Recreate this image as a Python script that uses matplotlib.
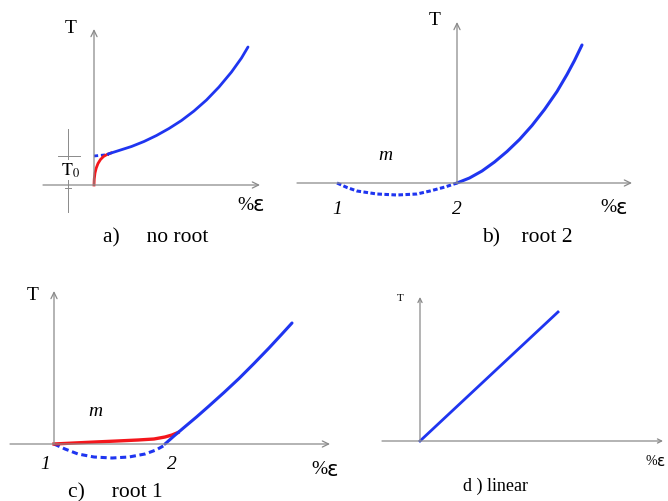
import numpy as np
import matplotlib
matplotlib.use("Agg")
import matplotlib.pyplot as plt

plt.rcParams['font.family'] = ['Liberation Serif', 'DejaVu Serif']
plt.rcParams['mathtext.fontset'] = 'stix'

BLUE = '#1f35f0'
RED = '#f4161c'
GREY = '#8a8a8a'
SCALE = 50.0  # pixels per unit in every sketch

# a) no root
a_blue_x = [0.28, 0.50, 0.75, 1.00, 1.25, 1.50, 1.75, 2.00, 2.25, 2.50, 2.75, 2.95, 3.08]
a_blue_y = [0.62, 0.69, 0.77, 0.87, 0.99, 1.13, 1.29, 1.48, 1.70, 1.96, 2.26, 2.54, 2.76]
a_dash_x = [0.0, 0.30]
a_dash_y = [0.58, 0.61]
a_red_x = [0.0, 0.005, 0.02, 0.045, 0.08, 0.13, 0.19, 0.26, 0.34]
a_red_y = [0.0, 0.12, 0.24, 0.34, 0.43, 0.51, 0.57, 0.61, 0.64]
a_T0 = 0.58

# b) root 2
b_dash_x = [-2.40, -2.20, -2.00, -1.60, -1.20, -0.80, -0.54, -0.24, 0.0]
b_dash_y = [0.0, -0.09, -0.16, -0.22, -0.24, -0.22, -0.16, -0.08, 0.0]
b_blue_x = [0.0, 0.25, 0.50, 0.75, 1.00, 1.25, 1.50, 1.75, 2.00, 2.20, 2.35, 2.50]
b_blue_y = [0.0, 0.10, 0.24, 0.42, 0.63, 0.87, 1.15, 1.47, 1.83, 2.17, 2.45, 2.76]

# c) root 1
c_red_x = [0.0, 0.40, 0.82, 1.26, 1.68, 2.00, 2.22, 2.36, 2.48]
c_red_y = [0.0, 0.02, 0.04, 0.06, 0.08, 0.10, 0.14, 0.18, 0.23]
c_dash_x = [0.0, 0.22, 0.48, 0.80, 1.16, 1.50, 1.82, 2.04, 2.22]
c_dash_y = [0.0, -0.10, -0.20, -0.26, -0.28, -0.26, -0.20, -0.12, -0.02]
c_blue_x = [2.22, 2.40, 2.60, 2.85, 3.10, 3.40, 3.70, 4.00, 4.30, 4.55, 4.76]
c_blue_y = [0.0, 0.16, 0.33, 0.54, 0.76, 1.03, 1.31, 1.61, 1.92, 2.19, 2.42]

# d) linear
d_line_x = [0.0, 2.76]
d_line_y = [0.0, 2.58]

W, H = 668, 502
fig = plt.figure(figsize=(W / 100, H / 100), dpi=100)


def panel(ox, oy):
    # full-figure transparent axes with its origin at pixel (ox, oy)
    ax = fig.add_axes([0, 0, 1, 1])
    ax.set_xlim(-ox / SCALE, (W - ox) / SCALE)
    ax.set_ylim((oy - H) / SCALE, oy / SCALE)
    ax.patch.set_alpha(0)
    ax.axis('off')
    return ax


def axes_arrows(ax, x0, x1, y1, y0=0.0, hw=0.22, hl=0.45):
    style = '->,head_width=%g,head_length=%g' % (hw, hl)
    ax.annotate('', xy=(x1, 0), xytext=(x0, 0),
                arrowprops=dict(arrowstyle=style, color=GREY, lw=0.9,
                                shrinkA=0, shrinkB=0))
    ax.annotate('', xy=(0, y1), xytext=(0, y0),
                arrowprops=dict(arrowstyle=style, color=GREY, lw=0.9,
                                shrinkA=0, shrinkB=0))


def strain_label(ax, x, y, size):
    # serif percent sign followed by a wide sans epsilon
    ax.text(x, y, '%', fontsize=size, ha='right', va='center')
    ax.text(x, y, 'ε', fontsize=size * 1.1, family='DejaVu Sans',
            ha='left', va='center')


# ---- a) no root
ax = panel(94, 186)
axes_arrows(ax, -1.02, 3.32, 3.12)
ax.plot(a_dash_x, a_dash_y, color=BLUE, lw=2, ls=(0, (1.5, 1)))
ax.plot(a_red_x, a_red_y, color=RED, lw=2)
ax.plot(a_blue_x, a_blue_y, color=BLUE, lw=2, solid_capstyle='round')
# T0 dimension line, broken by its label
ax.plot([-0.52, -0.52], [1.12, -0.54], color=GREY, lw=0.7)
ax.plot([-0.72, -0.28], [a_T0, a_T0], color=GREY, lw=0.7)
ax.plot([-0.58, -0.46], [-0.06, -0.06], color=GREY, lw=0.7)
ax.text(-0.46, 0.30, r'$\mathrm{T}_0$', fontsize=13, ha='center', va='center',
        bbox=dict(facecolor='white', edgecolor='none', pad=0.5), zorder=5)
ax.text(-0.46, 3.16, 'T', fontsize=14, ha='center', va='center')
strain_label(ax, 3.18, -0.38, 14)
ax.text(1.24, -1.04, 'a)     no root', fontsize=15.5, ha='center', va='center')

# ---- b) root 2
ax = panel(457, 184)
axes_arrows(ax, -3.2, 3.5, 3.22)
ax.plot(b_dash_x, b_dash_y, color=BLUE, lw=2.2, ls=(0, (1.5, 0.8)))
ax.plot(b_blue_x, b_blue_y, color=BLUE, lw=2.2, solid_capstyle='round')
ax.text(-0.44, 3.28, 'T', fontsize=14, ha='center', va='center')
ax.text(-1.44, 0.58, 'm', fontsize=14, style='italic', ha='center', va='center')
ax.text(-2.4, -0.52, '1', fontsize=14, style='italic', ha='center', va='center')
ax.text(0.0, -0.52, '2', fontsize=14, style='italic', ha='center', va='center')
strain_label(ax, 3.18, -0.48, 14)
ax.text(1.40, -1.08, 'b)    root 2', fontsize=15.5, ha='center', va='center')

# ---- c) root 1
ax = panel(54, 445)
axes_arrows(ax, -0.88, 5.52, 3.06)
ax.plot(c_dash_x, c_dash_y, color=BLUE, lw=2.2, ls=(0, (2, 1.2)))
ax.plot(c_red_x, c_red_y, color=RED, lw=2.4)
ax.plot(c_blue_x, c_blue_y, color=BLUE, lw=2.2, solid_capstyle='round')
ax.text(-0.42, 3.0, 'T', fontsize=14, ha='center', va='center')
ax.text(0.82, 0.66, 'm', fontsize=14, style='italic', ha='center', va='center')
ax.text(-0.18, -0.40, '1', fontsize=14, style='italic', ha='center', va='center')
ax.text(2.36, -0.40, '2', fontsize=14, style='italic', ha='center', va='center')
strain_label(ax, 5.46, -0.50, 14)
ax.text(1.22, -0.96, 'c)     root 1', fontsize=15.5, ha='center', va='center')

# ---- d) linear
ax = panel(420, 442)
axes_arrows(ax, -0.76, 4.86, 2.88, hw=0.15, hl=0.3)
ax.plot(d_line_x, d_line_y, color=BLUE, lw=2)
ax.text(-0.4, 2.86, 'T', fontsize=8, ha='center', va='center')
strain_label(ax, 4.74, -0.40, 10)
ax.text(1.50, -0.88, 'd ) linear', fontsize=13, ha='center', va='center')

fig.savefig('out.png', dpi=100)
